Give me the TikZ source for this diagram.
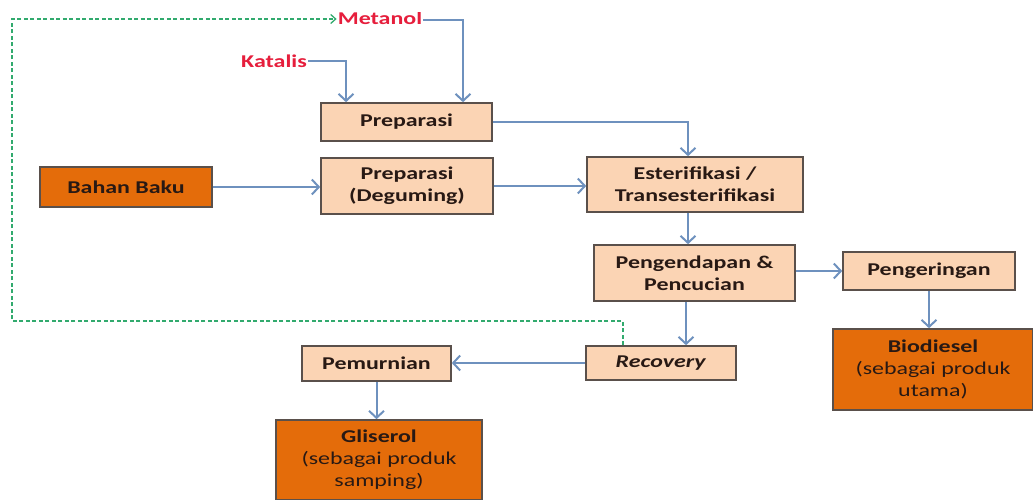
\documentclass[tikz,border=0pt]{standalone}
\usepackage{fontspec}
\setmainfont{Carlito}[FakeStretch=1.33]
\usetikzlibrary{arrows.meta}
\definecolor{peach}{RGB}{251,212,180}
\definecolor{dorange}{RGB}{228,108,10}
\definecolor{bord}{RGB}{90,80,75}
\definecolor{flow}{RGB}{110,145,190}
\definecolor{redtxt}{RGB}{230,30,60}
\definecolor{recyc}{RGB}{50,170,110}
\definecolor{boxtxt}{RGB}{40,25,20}
\begin{document}
\begin{tikzpicture}[x=1pt,y=-1pt,
  box/.style={draw=bord,line width=1.6pt,fill=peach,inner sep=0pt,align=center,
    font=\fontsize{18}{22}\selectfont\bfseries,text=boxtxt},
  prod/.style={box,fill=dorange,font=\fontsize{18}{22}\selectfont},
  lbl/.style={font=\fontsize{18}{20}\selectfont\bfseries,text=redtxt,inner sep=1pt},
  flowline/.style={draw=flow,line width=2pt,-{Straight Barb[length=7pt,width=15pt]}},
  recycle/.style={draw=recyc,line width=1.3pt,dash pattern=on 4pt off 2.5pt,-{Straight Barb[length=5pt,width=9pt]}}]
\useasboundingbox (0,0) rectangle (1033,500);
\fill[white] (0,0) rectangle (1033,500);

\node[box,minimum width=171pt,minimum height=38pt] (prep) at (406.5,122) {Preparasi};
\node[box,minimum width=172pt,minimum height=56pt] (deg) at (407,186) {Preparasi\\(Deguming)};
\node[prod,font=\fontsize{18}{22}\selectfont\bfseries,minimum width=172pt,minimum height=40pt] (bahan) at (126,187) {Bahan Baku};
\node[box,minimum width=216pt,minimum height=55pt] (ester) at (695,184.5) {Esterifikasi /\\Transesterifikasi};
\node[box,minimum width=201pt,minimum height=56pt] (peng) at (694.5,273) {Pengendapan \&\\Pencucian};
\node[box,minimum width=172pt,minimum height=38pt] (kering) at (929,271) {Pengeringan};
\node[prod,minimum width=200pt,minimum height=81pt] (bio) at (933,369.5) {\textbf{Biodiesel}\\(sebagai produk\\utama)};
\node[box,minimum width=150pt,minimum height=34pt] (rec) at (661,363) {\textit{Recovery}};
\node[box,minimum width=149pt,minimum height=35pt] (pem) at (376.5,363.5) {Pemurnian};
\node[prod,minimum width=206pt,minimum height=80pt] (gli) at (379,460) {\textbf{Gliserol}\\(sebagai produk\\samping)};

\begin{scope}
\clip (0,13) rectangle (1033,500);
\node[lbl] (met) at (380,18) {Metanol};
\end{scope}
\node[lbl] (kat) at (274,61) {Katalis};

\coordinate (c1) at (12,321);
\coordinate (c2) at (12,19);

\draw[flowline] ([yshift=-2pt]met.east) -| ([xshift=56.5pt]prep.north);
\draw[flowline] (kat.east) -| ([xshift=-60.5pt]prep.north);
\draw[flowline] (prep.east) -| ([xshift=-7pt]ester.north);
\draw[flowline] (bahan.east) -- (bahan.east -| deg.west);
\draw[flowline] (deg.east) -- (deg.east -| ester.west);
\draw[flowline] ([xshift=-7pt]ester.south) -- ([xshift=-7pt]ester.south |- peng.north);
\draw[flowline] (peng.east |- kering.west) -- (kering.west);
\draw[flowline] (kering.south) -- (kering.south |- bio.north);
\draw[flowline] ([xshift=-8.5pt]peng.south) -- ([xshift=-8.5pt]peng.south |- rec.north);
\draw[flowline] (rec.west) -- (rec.west -| pem.east);
\draw[flowline] (pem.south) -- (pem.south |- gli.north);
\draw[recycle] ([xshift=-38pt]rec.north) |- (c1) -- (c2) -- (c2 -| met.west);
\end{tikzpicture}
\end{document}
